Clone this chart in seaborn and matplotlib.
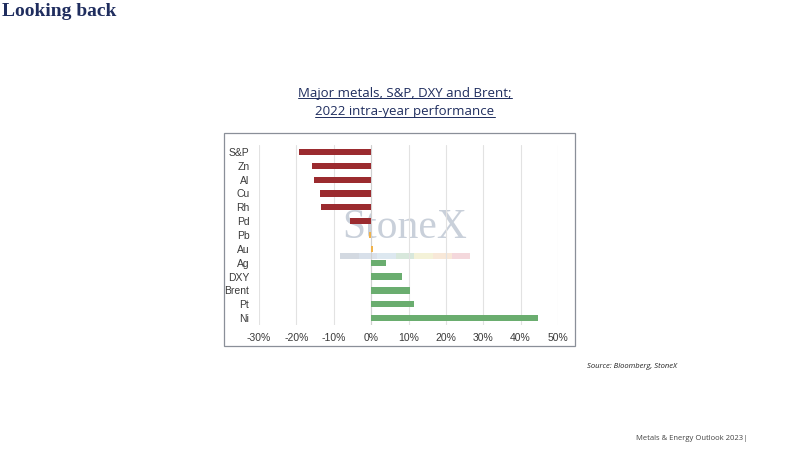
import matplotlib
matplotlib.use('Agg')
import matplotlib.pyplot as plt
import seaborn as sns
import pandas as pd
from matplotlib.patches import Rectangle
from matplotlib.lines import Line2D
from matplotlib.ticker import PercentFormatter

assets = ['S&P', 'Zn', 'Al', 'Cu', 'Rh', 'Pd', 'Pb', 'Au', 'Ag', 'DXY', 'Brent', 'Pt', 'Ni']
perf = [-19.4, -15.8, -15.2, -13.8, -13.5, -5.6, -0.5, 0.4, 4.0, 8.3, 10.5, 11.5, 44.7]
bar_colors = ['#9b2b2f'] * 6 + ['#f0b24a'] * 2 + ['#6aad6f'] * 5

df = pd.DataFrame({'asset': assets, 'perf': perf})

sns.set_theme(style='white')
plt.rcParams['font.family'] = ['Liberation Sans', 'DejaVu Sans']
plt.rcParams['axes.unicode_minus'] = False

fig = plt.figure(figsize=(8, 4.5), dpi=100)
fig.patch.set_facecolor('white')

# chart frame
fig.add_artist(Rectangle((224 / 800, 1 - 346 / 450), 351 / 800, 213 / 450,
                         transform=fig.transFigure, fill=False, ec='#8a8f98', lw=0.9))

ax = fig.add_axes([259 / 800, 1 - 325 / 450, 299 / 800, 180 / 450])

# watermark behind bars
fig.text(405 / 800, 1 - 228 / 450, 'StoneX', family=['Liberation Serif', 'DejaVu Serif'],
         fontsize=30, color='#c9d0da', ha='center', va='center', zorder=-1)
stripe = ['#d3d9e1', '#d8e0ea', '#dde8f0', '#d8e8dc', '#f4f2d8', '#f8e8d8', '#f4d8dc']
for i, c in enumerate(stripe):
    fig.add_artist(Rectangle(((340 + i * 18.6) / 800, 1 - 259 / 450), 18.6 / 800, 6 / 450,
                             transform=fig.transFigure, color=c, lw=0, zorder=-1))
ax.patch.set_alpha(0)

sns.barplot(data=df, x='perf', y='asset', hue='asset', palette=bar_colors,
            legend=False, width=0.45, linewidth=0, saturation=1, ax=ax, zorder=3)

ax.set_xlim(-30, 50)
ax.set_xticks(range(-30, 51, 10))
ax.xaxis.set_major_formatter(PercentFormatter(decimals=0))
ax.grid(axis='x', color='#e2e2e2', lw=0.8, zorder=0)
ax.set_axisbelow(True)
for s in ax.spines.values():
    s.set_visible(False)
ax.axvline(0, color='#d0d0d0', lw=0.8, zorder=1)
ax.set_xlabel('')
ax.set_ylabel('')
ax.tick_params(axis='both', length=0, labelsize=7.5, colors='#3a3a3a')
ax.tick_params(axis='y', pad=7)
ax.tick_params(axis='x', pad=6)

# titles
fig.text(2 / 800, 1 - 11 / 450, 'Looking back', family=['Liberation Serif', 'DejaVu Serif'],
         fontsize=14, fontweight='bold', color='#1f2d5e', ha='left', va='center')

t1 = fig.text(405 / 800, 1 - 93 / 450, 'Major metals, S&P, DXY and Brent;',
              family=['Open Sans', 'DejaVu Sans'], fontsize=9.5, color='#1f2d5e',
              ha='center', va='center')
t2 = fig.text(405 / 800, 1 - 112 / 450, '2022 intra-year performance',
              family=['Open Sans', 'DejaVu Sans'], fontsize=9.5, color='#1f2d5e',
              ha='center', va='center')

fig.text(587 / 800, 1 - 367 / 450, 'Source: Bloomberg, StoneX', family=['Open Sans', 'DejaVu Sans'],
         fontsize=5.5, style='italic', color='#222222', ha='left', va='center')
fig.text(636 / 800, 1 - 438 / 450, 'Metals & Energy Outlook 2023|', family=['Open Sans', 'DejaVu Sans'],
         fontsize=5.5, color='#444444', ha='left', va='center')

# underline the chart title
fig.canvas.draw()
r = fig.canvas.get_renderer()
for t in (t1, t2):
    bb = t.get_window_extent(r).transformed(fig.transFigure.inverted())
    fig.add_artist(Line2D([bb.x0, bb.x1], [bb.y0 + 0.004, bb.y0 + 0.004],
                          transform=fig.transFigure, color='#1f2d5e', lw=0.7))

fig.savefig('out.png', dpi=100, facecolor='white')
